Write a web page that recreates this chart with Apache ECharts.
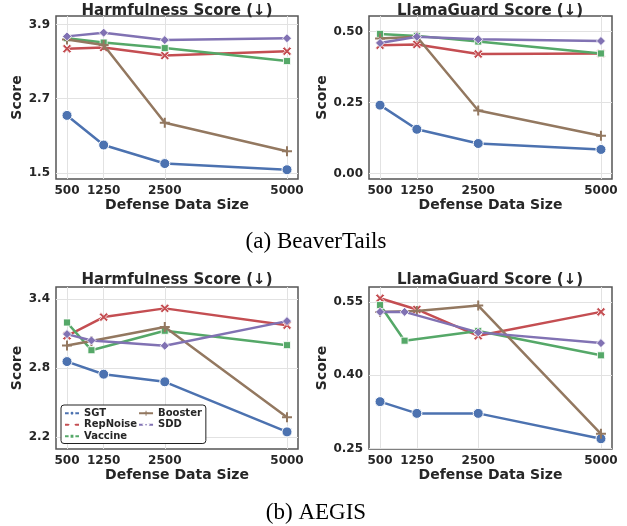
<!DOCTYPE html>
<html><head><meta charset="utf-8">
<script src="https://cdn.jsdelivr.net/npm/echarts@6/dist/echarts.min.js"></script>
<style>html,body{margin:0;padding:0;background:#fff}#c{width:627px;height:526px}</style>
</head><body><div id="c"></div>
<script>
// ---- data ----
const methods = ['SGT', 'RepNoise', 'Vaccine', 'Booster', 'SDD'];
const sizes = [500, 1250, 2500, 5000];
const sizesAlt = [500, 1000, 2500, 5000];
const xTicks = [500, 1250, 2500, 5000];

// (a) BeaverTails - Harmfulness
const btHarmSGT = [2.43, 1.95, 1.65, 1.55];
const btHarmRepNoise = [3.51, 3.53, 3.40, 3.47];
const btHarmVaccine = [3.68, 3.61, 3.52, 3.31];
const btHarmBooster = [3.66, 3.57, 2.31, 1.85];
const btHarmSDD = [3.71, 3.77, 3.65, 3.68];
const btHarmTicks = [1.5, 2.7, 3.9];

// (a) BeaverTails - LlamaGuard
const btLgSGT = [0.241, 0.156, 0.106, 0.085];
const btLgRepNoise = [0.452, 0.455, 0.421, 0.423];
const btLgVaccine = [0.492, 0.485, 0.465, 0.423];
const btLgBooster = [0.476, 0.482, 0.222, 0.133];
const btLgSDD = [0.460, 0.482, 0.473, 0.467];
const btLgTicks = [0.00, 0.25, 0.50];

// (b) AEGIS - Harmfulness
const agHarmSGT = [2.856, 2.746, 2.68, 2.244];
const agHarmRepNoise = [3.08, 3.243, 3.319, 3.173];
const agHarmVaccine = [3.196, 2.955, 3.124, 2.999];
const agHarmBooster = [2.996, 3.035, 3.156, 2.372];
const agHarmSDD = [3.095, 3.04, 2.993, 3.208];
const agHarmTicks = [2.2, 2.8, 3.4];

// (b) AEGIS - LlamaGuard
const agLgSGT = [0.346, 0.322, 0.322, 0.270];
const agLgRepNoise = [0.558, 0.535, 0.481, 0.530];
const agLgVaccine = [0.544, 0.471, 0.491, 0.441];
const agLgBooster = [0.530, 0.532, 0.543, 0.280];
const agLgSDD = [0.530, 0.530, 0.488, 0.466];
const agLgTicks = [0.25, 0.40, 0.55];

// ---- styling ----
const X_PATH = 'path://M2,0 L5,3 L8,0 L10,2 L7,5 L10,8 L8,10 L5,7 L2,10 L0,8 L3,5 L0,2 Z';
const PLUS_PATH = 'path://M4,0 H6 V4 H10 V6 H6 V10 H4 V6 H0 V4 H4 Z';
const sty = {
  SGT: {color: '#4C72B0', symbol: 'circle', size: 10, bw: 1},
  RepNoise: {color: '#C44E52', symbol: X_PATH, size: 9, bw: 0.8},
  Vaccine: {color: '#55A868', symbol: 'rect', size: 7, bw: 0.8},
  Booster: {color: '#937860', symbol: PLUS_PATH, size: 10, bw: 0},
  SDD: {color: '#8172B3', symbol: 'diamond', size: 9, bw: 0.8}
};
const FONT = 'DejaVu Sans';
const txt = '#262626';

const panels = [
  {grid: {left: 56, top: 16, width: 242, height: 163}, min: 1.40, max: 4.04, ticks: btHarmTicks, dec: 1, gap: 28,
   xs: [sizes, sizes, sizes, sizes, sizes],
   ys: [btHarmSGT, btHarmRepNoise, btHarmVaccine, btHarmBooster, btHarmSDD]},
  {grid: {left: 369, top: 16, width: 243, height: 163}, min: -0.019, max: 0.555, ticks: btLgTicks, dec: 2, gap: 37,
   xs: [sizes, sizes, sizes, sizes, sizes],
   ys: [btLgSGT, btLgRepNoise, btLgVaccine, btLgBooster, btLgSDD]},
  {grid: {left: 56, top: 287, width: 242, height: 162}, min: 2.095, max: 3.505, ticks: agHarmTicks, dec: 1, gap: 28,
   xs: [sizes, sizes, sizesAlt, sizesAlt, sizesAlt],
   ys: [agHarmSGT, agHarmRepNoise, agHarmVaccine, agHarmBooster, agHarmSDD]},
  {grid: {left: 369, top: 287, width: 243, height: 162}, min: 0.249, max: 0.581, ticks: agLgTicks, dec: 2, gap: 37,
   xs: [sizes, sizes, sizesAlt, sizes, sizesAlt],
   ys: [agLgSGT, agLgRepNoise, agLgVaccine, agLgBooster, agLgSDD]}
];

const grids = [], xAxes = [], yAxes = [], series = [];
const labelStyle = {fontFamily: FONT, fontWeight: 'bold', fontSize: 12, color: txt};
const nameStyle = {fontFamily: FONT, fontWeight: 'bold', fontSize: 14, color: txt};
panels.forEach((p, i) => {
  grids.push(Object.assign({show: true, borderColor: '#555', borderWidth: 1.5, backgroundColor: 'transparent', outerBoundsMode: 'none'}, p.grid));
  xAxes.push({
    type: 'value', gridIndex: i, min: 275, max: 5225,
    axisLine: {show: false}, axisTick: {show: false, customValues: xTicks},
    axisLabel: Object.assign({customValues: xTicks, margin: 6, formatter: v => String(v)}, labelStyle),
    splitLine: {show: true, lineStyle: {color: '#e2e2e2', width: 1}},
    name: 'Defense Data Size', nameLocation: 'middle', nameGap: 18, nameTextStyle: nameStyle
  });
  yAxes.push({
    type: 'value', gridIndex: i, min: p.min, max: p.max,
    axisLine: {show: false}, axisTick: {show: false, customValues: p.ticks},
    axisLabel: Object.assign({customValues: p.ticks, margin: 6, formatter: v => v.toFixed(p.dec)}, labelStyle),
    splitLine: {show: true, lineStyle: {color: '#e2e2e2', width: 1}},
    name: 'Score', nameLocation: 'middle', nameGap: p.gap, nameTextStyle: nameStyle
  });
  methods.forEach((m, k) => {
    const s = sty[m];
    series.push({
      type: 'line', name: m, xAxisIndex: i, yAxisIndex: i,
      data: p.xs[k].map((x, j) => [x, p.ys[k][j]]),
      symbol: s.symbol, symbolSize: s.size, symbolKeepAspect: true, showAllSymbol: true,
      lineStyle: {color: s.color, width: 2.5},
      itemStyle: {color: s.color, borderColor: '#fff', borderWidth: s.bw, opacity: 1},
      emphasis: {disabled: true}, animation: false, z: 2 + k
    });
  });
});

const TFONT = 'bold 15px "DejaVu Sans"';
const chart = echarts.init(document.getElementById('c'), null, {renderer: 'canvas'});
chart.setOption({
  backgroundColor: '#fff',
  animation: false,
  grid: grids, xAxis: xAxes, yAxis: yAxes, series: series,
  legend: {
    data: methods, orient: 'vertical', left: 61, top: 405, height: 36,
    padding: [3, 4, 2, 3], itemGap: 1, itemWidth: 14, itemHeight: 6,
    borderColor: '#222', borderWidth: 1, borderRadius: 3, backgroundColor: '#fff',
    textStyle: {fontFamily: FONT, fontWeight: 'bold', fontSize: 10, color: txt, lineHeight: 10.5},
    selectedMode: false
  },
  graphic: [
    {type: 'text', x: 177, y: 11, style: {text: 'Harmfulness Score (↓)', align: 'center', verticalAlign: 'middle', font: TFONT, fill: txt}},
    {type: 'text', x: 490, y: 11, style: {text: 'LlamaGuard Score (↓)', align: 'center', verticalAlign: 'middle', font: TFONT, fill: txt}},
    {type: 'text', x: 177, y: 280, style: {text: 'Harmfulness Score (↓)', align: 'center', verticalAlign: 'middle', font: TFONT, fill: txt}},
    {type: 'text', x: 490, y: 280, style: {text: 'LlamaGuard Score (↓)', align: 'center', verticalAlign: 'middle', font: TFONT, fill: txt}},
    {type: 'text', x: 316, y: 242, style: {text: '(a) BeaverTails', align: 'center', verticalAlign: 'middle', font: '23px "Liberation Serif"', fill: '#000'}},
    {type: 'text', x: 316, y: 513, style: {text: '(b) AEGIS', align: 'center', verticalAlign: 'middle', font: '23px "Liberation Serif"', fill: '#000'}}
  ]
});
</script></body></html>
